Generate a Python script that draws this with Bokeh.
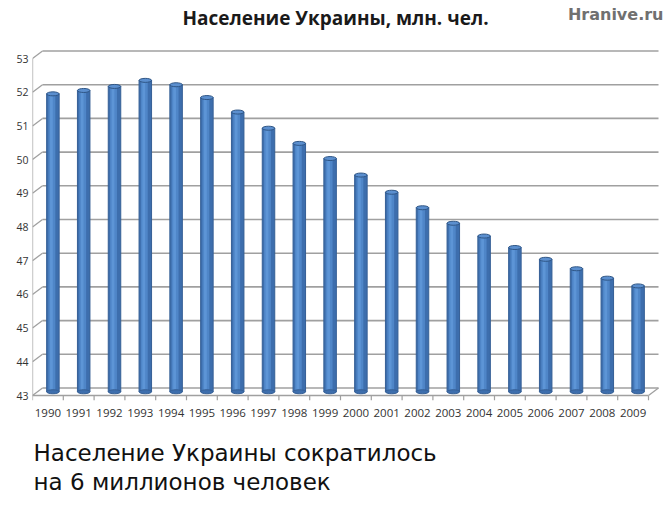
from bokeh.plotting import figure
from bokeh.models import Range1d, FixedTicker, Label, Title
from bokeh.embed import file_html
from bokeh.resources import INLINE

# ---- data ----
years = [1990, 1991, 1992, 1993, 1994, 1995, 1996, 1997, 1998, 1999,
         2000, 2001, 2002, 2003, 2004, 2005, 2006, 2007, 2008, 2009]
population = [51.84, 51.94, 52.06, 52.24, 52.11, 51.73, 51.30, 50.82, 50.37, 49.92,
              49.43, 48.92, 48.46, 48.00, 47.62, 47.28, 46.93, 46.65, 46.37, 46.14]
y_ticks = [43, 44, 45, 46, 47, 48, 49, 50, 51, 52, 53]
title_text = "Население Украины, млн. чел."
watermark = "Hranive.ru"
caption_1 = "Население Украины сократилось"
caption_2 = "на 6 миллионов человек"

# ---- geometry (page pixels -> data) ----
W, H = 667, 523
FL, FR, FT, FB = 32, 667, 0, 400       # frame edges in page px
PX_X = 30.8                            # px per category
PX_Y = 33.7                            # px per million
Y0_PX = 395                            # page y of value 43 (front plane)

x_start = -0.5
x_end = x_start + (FR - FL) / PX_X
y_start = 43 - (FB - Y0_PX) / PX_Y
y_end = 43 + (Y0_PX - FT) / PX_Y

def X(px):
    return x_start + (px - FL) / PX_X

def Y(py):
    return 43 + (Y0_PX - py) / PX_Y

DX = 10 / PX_X      # depth shift in x
DY = 7.5 / PX_Y     # depth shift in y

idx = list(range(len(years)))

p = figure(width=W, height=H, output_backend="svg", toolbar_location=None,
           x_range=Range1d(x_start, x_end), y_range=Range1d(y_start, y_end),
           min_border_left=FL, min_border_right=W - FR,
           min_border_top=FT, min_border_bottom=H - FB)
p.outline_line_color = None
p.grid.visible = False
p.background_fill_color = "white"
p.border_fill_color = "white"

grid_col = "#a0a0a0"
# back-wall gridlines
n = len(y_ticks)
p.segment(x0=[x_start + DX] * n, y0=[v + DY for v in y_ticks],
          x1=[len(years) - 0.5 + DX] * n, y1=[v + DY for v in y_ticks],
          line_color=grid_col, line_width=1.6)
# slanted ticks on the side wall
p.segment(x0=[x_start] * n, y0=y_ticks, x1=[x_start + DX] * n,
          y1=[v + DY for v in y_ticks], line_color=grid_col, line_width=1.3)
# front vertical axis
p.segment(x0=[x_start], y0=[y_ticks[0]], x1=[x_start], y1=[y_ticks[-1]],
          line_color=grid_col, line_width=1.3)
# floor front edge and right edge
p.segment(x0=[x_start, len(years) - 0.5], y0=[43, 43],
          x1=[len(years) - 0.5, len(years) - 0.5 + DX], y1=[43, 43 + DY],
          line_color=grid_col, line_width=1.3)
# category tick marks under the floor
bounds = [i - 0.5 for i in range(len(years) + 1)]
p.segment(x0=bounds, y0=[43] * len(bounds), x1=bounds,
          y1=[43 - 5 / PX_Y] * len(bounds), line_color=grid_col, line_width=1.2)

# cylinders
bx = [i + DX / 2 for i in idx]
top = [v + DY / 2 for v in population]
bw = 12.5 / PX_X
p.vbar(x=bx, bottom=43 + DY / 2, top=top, width=bw,
       fill_color="#3d6ead", line_color="#355f95", line_width=1)
p.vbar(x=[b - bw * 0.08 for b in bx], bottom=43 + DY / 2, top=top, width=bw * 0.55,
       fill_color="#4f86c8", line_color=None)
p.vbar(x=[b - bw * 0.12 for b in bx], bottom=43 + DY / 2, top=top, width=bw * 0.22,
       fill_color="#5d95d6", line_color=None)
p.ellipse(x=bx, y=[43 + DY / 2] * len(bx), width=bw, height=4,
          width_units="data", height_units="screen",
          fill_color="#3d6ead", line_color="#355f95", line_width=1)
p.ellipse(x=bx, y=top, width=bw, height=4, width_units="data", height_units="screen",
          fill_color="#5b8fcf", line_color="#2f5686", line_width=1)

# axes
p.yaxis.ticker = FixedTicker(ticks=y_ticks)
p.yaxis.axis_line_color = None
p.yaxis.major_tick_line_color = None
p.yaxis.minor_tick_line_color = None
p.yaxis.major_tick_out = 0
p.yaxis.major_tick_in = 0
p.yaxis.minor_tick_out = 0
p.yaxis.major_label_standoff = 4
p.yaxis.major_label_text_font = "Open Sans"
p.yaxis.major_label_text_font_size = "10.5px"
p.yaxis.major_label_text_color = "#333333"

p.xaxis.ticker = FixedTicker(ticks=idx)
p.xaxis.major_label_overrides = {i: str(y) for i, y in zip(idx, years)}
p.xaxis.axis_line_color = None
p.xaxis.major_tick_line_color = None
p.xaxis.minor_tick_line_color = None
p.xaxis.major_tick_out = 0
p.xaxis.major_tick_in = 0
p.xaxis.minor_tick_out = 0
p.xaxis.major_label_standoff = 8
p.xaxis.major_label_text_font = "Open Sans"
p.xaxis.major_label_text_font_size = "11.5px"
p.xaxis.major_label_text_color = "#333333"

# texts inside the (tall) frame
p.add_layout(Label(x=X(335), y=Y(17), text=title_text, text_align="center",
                   text_baseline="middle", text_font="Open Sans",
                   text_font_style="bold", text_font_size="19px",
                   text_color="#1a1a1a"))
p.add_layout(Label(x=X(663), y=Y(14), text=watermark, text_align="right",
                   text_baseline="middle", text_font="DejaVu Sans",
                   text_font_style="bold", text_font_size="16px",
                   text_color="#707070"))

# caption below (two lines)
cap = Title(text=caption_1 + "\n" + caption_2, align="left", text_font="DejaVu Sans",
            text_font_style="normal", text_font_size="23px", text_color="#111111",
            text_line_height=1.12, standoff=38, offset=1)
p.add_layout(cap, "below")

open("out.html", "w").write(file_html(p, INLINE))
